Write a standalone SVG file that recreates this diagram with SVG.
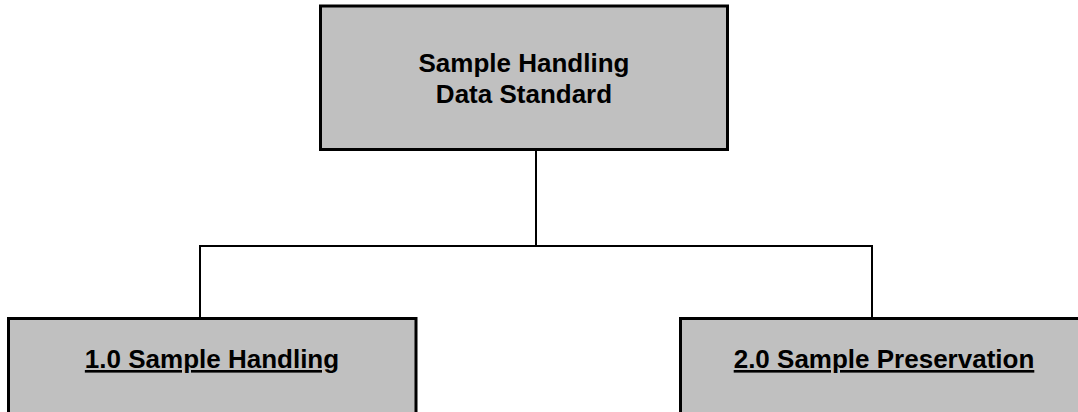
<svg xmlns="http://www.w3.org/2000/svg" width="1078" height="412" viewBox="0 0 1078 412">
<style>
.box{fill:#C0C0C0;stroke:#000;stroke-width:3}
.lbl{font-family:"Liberation Sans",Arial,sans-serif;font-weight:bold;font-size:26px;fill:#000;text-anchor:middle}
.u{text-decoration:underline}
.conn{stroke:#000;stroke-width:2;fill:none}
</style>
<rect width="1078" height="412" fill="#fff"/>
<g id="connectors">
<path class="conn" d="M536,150 V246 M200,246 H872 M200,245 V318 M872,245 V318"/>
</g>
<g id="root">
<rect class="box" x="320.5" y="6" width="407" height="143.5"/>
<text class="lbl" x="524" y="71.5">Sample Handling</text>
<text class="lbl" x="524" y="102.5">Data Standard</text>
</g>
<g id="n1">
<rect class="box" x="8.5" y="318.5" width="407.5" height="110"/>
<text class="lbl u" x="212" y="368">1.0 Sample Handling</text>
</g>
<g id="n2">
<rect class="box" x="680.5" y="318.5" width="407.5" height="110"/>
<text class="lbl u" x="884" y="368">2.0 Sample Preservation</text>
</g>
</svg>
